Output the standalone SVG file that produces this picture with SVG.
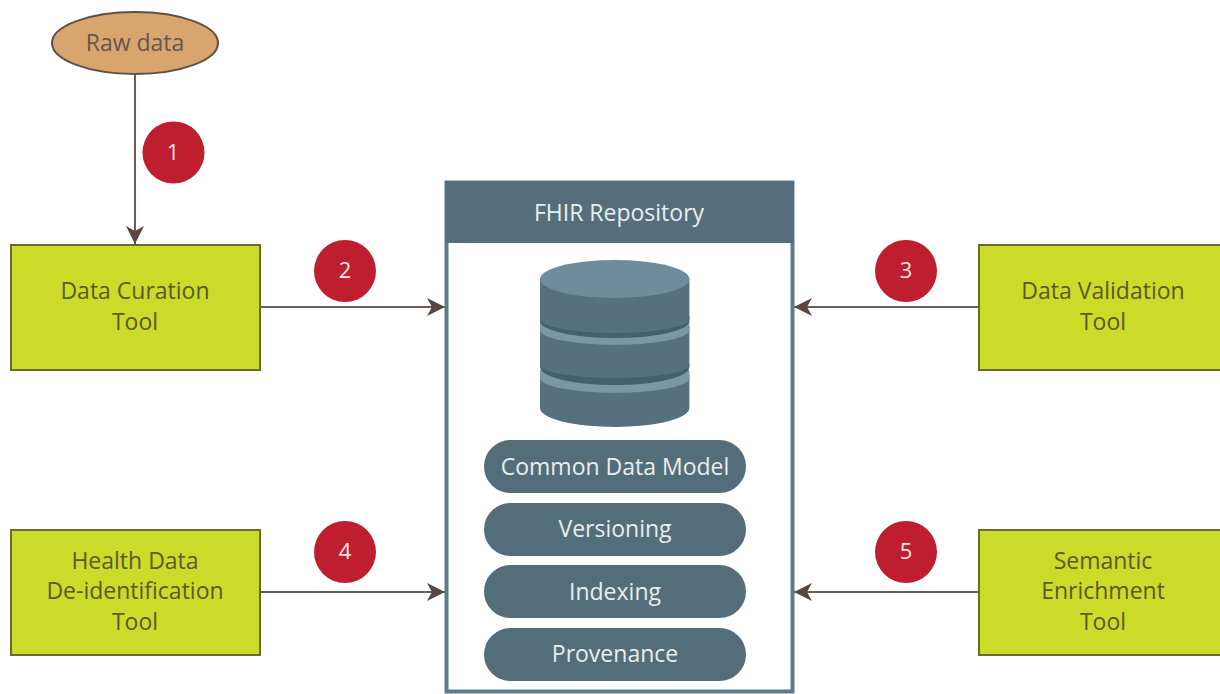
<svg xmlns="http://www.w3.org/2000/svg" width="1220" height="694" viewBox="0 0 1220 694">
<style>
text{font-family:"Open Sans","Noto Sans","Liberation Sans",sans-serif;font-size:23px;text-anchor:middle}
.tool rect{fill:#cbdb2a;stroke:#6d6b2c;stroke-width:2}
.tool text{fill:#5a5a22}
.pill rect{fill:#536d7a}
.pill text,.head{fill:#e8eef0}
.badge circle{fill:#be1e2d}
.badge text{fill:#f6e6e6;font-size:22px}
.conn{stroke:#6b5c58;stroke-width:2;fill:none;marker-end:url(#arr)}
.mid{fill:#56707e}.light{fill:#7b96a5}.dark{fill:#445f6d}
</style>
<defs>
<marker id="arr" markerUnits="userSpaceOnUse" markerWidth="20" markerHeight="20" refX="18" refY="10" orient="auto">
<path d="M0 1 L18 10 L0 19 L5 10 Z" fill="#59473f"/>
</marker>
</defs>
<rect width="1220" height="694" fill="#fff"/>
<g id="connectors">
<path class="conn" d="M135 74V244"/>
<path class="conn" d="M260 307H445"/>
<path class="conn" d="M979 307H794"/>
<path class="conn" d="M260 592H445"/>
<path class="conn" d="M979 592H794"/>
</g>
<g id="raw-data">
<ellipse cx="135" cy="43" rx="83" ry="31" fill="#d9a56e" stroke="#5f5048" stroke-width="2"/>
<text x="135" y="51" fill="#66564e">Raw data</text>
</g>
<g id="data-curation" class="tool"><rect x="11" y="245" width="249" height="125"/><text x="135" y="299">Data Curation</text><text x="135" y="330">Tool</text></g>
<g id="data-validation" class="tool"><rect x="979" y="245" width="243" height="125"/><text x="1103" y="299">Data Validation</text><text x="1103" y="330">Tool</text></g>
<g id="de-identification" class="tool"><rect x="11" y="530" width="249" height="125"/><text x="135" y="569">Health Data</text><text x="135" y="599">De-identification</text><text x="135" y="630">Tool</text></g>
<g id="semantic-enrichment" class="tool"><rect x="979" y="530" width="243" height="125"/><text x="1103" y="569">Semantic</text><text x="1103" y="599">Enrichment</text><text x="1103" y="630">Tool</text></g>
<g id="fhir-repository">
<rect x="446.500" y="182.500" width="346" height="509" fill="#fff" stroke="#5f7a88" stroke-width="4"/>
<rect x="445" y="181" width="349" height="62" fill="#566e7b"/>
<text class="head" x="619" y="221">FHIR Repository</text>
<g id="database">
<path class="mid" d="M540 375V408A74.700 19 0 0 0 689.400 408V375Z"/>
<path class="light" d="M540 370V378A74.700 15 0 0 0 689.400 378V370Z"/>
<path class="dark" d="M540 364V367A74.700 18 0 0 0 689.400 367V364Z"/>
<path class="mid" d="M540 326V365A74.700 13 0 0 0 689.400 365V326Z"/>
<path class="light" d="M540 322V330A74.700 15 0 0 0 689.400 330V322Z"/>
<path class="dark" d="M540 316V321A74.700 17 0 0 0 689.400 321V316Z"/>
<path class="mid" d="M540 279V319A74.700 14 0 0 0 689.400 319V279Z"/>
<ellipse cx="614.700" cy="279" rx="74.700" ry="19" fill="#708c9c"/>
</g>
</g>
<g id="common-data-model" class="pill"><rect x="484" y="440" width="262" height="53" rx="26.500"/><text x="615" y="475">Common Data Model</text></g>
<g id="versioning" class="pill"><rect x="484" y="503" width="262" height="53" rx="26.500"/><text x="615" y="537">Versioning</text></g>
<g id="indexing" class="pill"><rect x="484" y="565" width="262" height="53" rx="26.500"/><text x="615" y="600">Indexing</text></g>
<g id="provenance" class="pill"><rect x="484" y="628" width="262" height="53" rx="26.500"/><text x="615" y="662">Provenance</text></g>
<g id="badge-1" class="badge"><circle cx="173.500" cy="152.500" r="31"/><text x="173" y="160">1</text></g>
<g id="badge-2" class="badge"><circle cx="345" cy="271" r="31"/><text x="345" y="278">2</text></g>
<g id="badge-3" class="badge"><circle cx="906" cy="271" r="31"/><text x="906" y="278">3</text></g>
<g id="badge-4" class="badge"><circle cx="345" cy="552" r="31"/><text x="345" y="559">4</text></g>
<g id="badge-5" class="badge"><circle cx="906" cy="552" r="31"/><text x="906" y="559">5</text></g>
</svg>
